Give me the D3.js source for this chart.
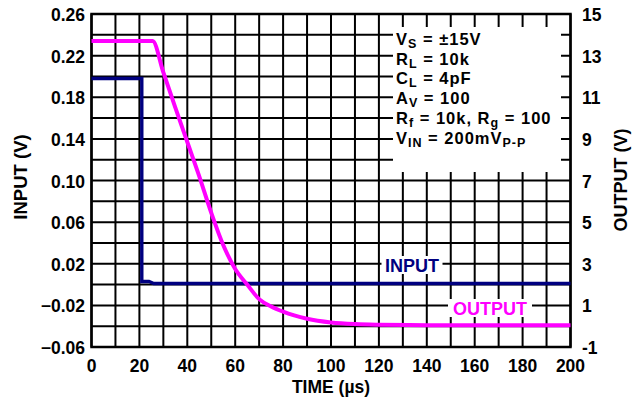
<!DOCTYPE html>
<html>
<head>
<meta charset="utf-8">
<script src="https://cdn.jsdelivr.net/npm/d3@7"></script>
<style>
  body { margin: 0; background: #fff; }
  svg text { font-family: "Liberation Sans", Arial, sans-serif; font-weight: bold; }
</style>
</head>
<body>
<div id="chart"></div>
<script>
// data
var inputTime  = [0, 21, 21, 24, 26, 200];
var inputVolts = [0.198, 0.198, 0.003, 0.003, 0.001, 0.001];

var outputTime  = [0, 25.5, 30, 35, 40, 45, 50, 55, 60, 65, 70, 75, 80, 90, 100, 110, 120, 140, 160, 180, 200];
var outputVolts = [13.7, 13.7, 12.2, 10.5, 8.85, 7.2, 5.45, 3.9, 2.75, 2.0, 1.3, 0.95, 0.7, 0.36, 0.18, 0.1, 0.07, 0.05, 0.04, 0.04, 0.04];

var xTicks = [0, 20, 40, 60, 80, 100, 120, 140, 160, 180, 200];
var leftTicks = [0.26, 0.22, 0.18, 0.14, 0.10, 0.06, 0.02, -0.02, -0.06];
var rightTicks = [15, 13, 11, 9, 7, 5, 3, 1, -1];

var width = 642, height = 401;
var plot = {left: 91.5, right: 570.5, top: 14, bottom: 347};

var svg = d3.select("#chart").append("svg")
    .attr("width", width)
    .attr("height", height);

var x = d3.scaleLinear().domain([0, 200]).range([plot.left, plot.right]);
var yL = d3.scaleLinear().domain([-0.06, 0.26]).range([plot.bottom, plot.top]);
var yR = d3.scaleLinear().domain([-1, 15]).range([plot.bottom, plot.top]);

// grid
var grid = svg.append("g").attr("stroke", "#000").attr("stroke-width", 2);
grid.selectAll("line.v")
    .data(d3.range(0, 201, 10))
    .enter().append("line")
    .attr("x1", function(d) { return x(d); })
    .attr("x2", function(d) { return x(d); })
    .attr("y1", plot.top)
    .attr("y2", plot.bottom);
grid.selectAll("line.h")
    .data(d3.range(0, 17))
    .enter().append("line")
    .attr("x1", plot.left)
    .attr("x2", plot.right)
    .attr("y1", function(d) { return yL(-0.06 + d * 0.02); })
    .attr("y2", function(d) { return yL(-0.06 + d * 0.02); });

svg.append("rect")
    .attr("x", plot.left).attr("y", plot.top)
    .attr("width", plot.right - plot.left)
    .attr("height", plot.bottom - plot.top)
    .attr("fill", "none").attr("stroke", "#000").attr("stroke-width", 2.5);

// conditions box
svg.append("rect")
    .attr("x", 393).attr("y", 27)
    .attr("width", 168).attr("height", 145)
    .attr("fill", "#fff");

var notes = [
  [["V", ""], ["S", "sub"], [" = \u00b115V", ""]],
  [["R", ""], ["L", "sub"], [" = 10k", ""]],
  [["C", ""], ["L", "sub"], [" = 4pF", ""]],
  [["A", ""], ["V", "sub"], [" = 100", ""]],
  [["R", ""], ["f", "sub"], [" = 10k, R", ""], ["g", "sub"], [" = 100", ""]],
  [["V", ""], ["IN", "sub"], [" = 200mV", ""], ["P-P", "sub"]]
];
notes.forEach(function(parts, i) {
  var t = svg.append("text")
      .attr("x", 396)
      .attr("y", 45 + i * 19.7)
      .attr("font-size", 16.5)
      .attr("letter-spacing", 1)
      .attr("fill", "#000");
  parts.forEach(function(p) {
    var ts = t.append("tspan").text(p[0]);
    if (p[1] == "sub") ts.attr("baseline-shift", "-3").attr("font-size", 12.5);
  });
});

// curves
var line = d3.line().curve(d3.curveMonotoneX);

svg.append("path")
    .datum(inputTime.map(function(t, i) { return [x(t), yL(inputVolts[i])]; }))
    .attr("d", d3.line())
    .attr("fill", "none")
    .attr("stroke", "#000080")
    .attr("stroke-width", 3.4);

svg.append("path")
    .datum(outputTime.map(function(t, i) { return [x(t), yR(outputVolts[i])]; }))
    .attr("d", line)
    .attr("fill", "none")
    .attr("stroke", "#ff00ff")
    .attr("stroke-width", 4);

// in-plot labels
svg.append("rect").attr("x", 381.5).attr("y", 256).attr("width", 61).attr("height", 18).attr("fill", "#fff");
svg.append("text").attr("x", 412).attr("y", 272)
    .attr("text-anchor", "middle").attr("font-size", 18)
    .attr("fill", "#000080").text("INPUT");

svg.append("rect").attr("x", 448).attr("y", 299).attr("width", 84).attr("height", 18).attr("fill", "#fff");
svg.append("text").attr("x", 490).attr("y", 315)
    .attr("text-anchor", "middle").attr("font-size", 18)
    .attr("fill", "#ff00ff").text("OUTPUT");

// tick labels
svg.selectAll("text.lt")
    .data(leftTicks)
    .enter().append("text")
    .attr("x", 85)
    .attr("y", function(d) { return yL(d) + 7; })
    .attr("text-anchor", "end")
    .attr("font-size", 17.5)
    .text(function(d) { return d3.format(".2f")(d); });

svg.selectAll("text.rt")
    .data(rightTicks)
    .enter().append("text")
    .attr("x", 582)
    .attr("y", function(d) { return yR(d) + 7; })
    .attr("font-size", 17.5)
    .text(function(d) { return d; });

svg.selectAll("text.bt")
    .data(xTicks)
    .enter().append("text")
    .attr("x", function(d) { return x(d); })
    .attr("y", 372)
    .attr("text-anchor", "middle")
    .attr("font-size", 17.5)
    .text(function(d) { return d; });

// axis titles
svg.append("text")
    .attr("x", 331).attr("y", 393)
    .attr("text-anchor", "middle").attr("font-size", 17.5)
    .text("TIME (\u00b5s)");

svg.append("text")
    .attr("transform", "translate(27,177) rotate(-90)")
    .attr("text-anchor", "middle").attr("font-size", 18.5)
    .text("INPUT (V)");

svg.append("text")
    .attr("transform", "translate(627,180) rotate(-90)")
    .attr("text-anchor", "middle").attr("font-size", 18)
    .text("OUTPUT (V)");
</script>
</body>
</html>
